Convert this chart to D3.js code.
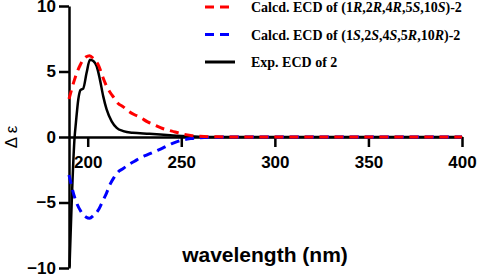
<!DOCTYPE html>
<html>
<head>
<meta charset="utf-8">
<script src="https://cdn.jsdelivr.net/npm/d3@7"></script>
<style>
  body { margin: 0; background: #fff; }
  svg { display: block; }
</style>
</head>
<body>
<script>
// calculated ECD spectra (nm, Δε)
const calcNm = [190, 193, 196, 199, 201, 203, 206, 208, 210, 212, 214, 216, 219, 222, 225, 228, 232, 236, 240, 245, 250, 255, 260, 270, 280, 300, 350, 400];
const calcRRRSS = [2.9, 4.4, 5.5, 6.1, 6.2, 6.0, 5.4, 4.6, 3.9, 3.4, 3.0, 2.6, 2.3, 1.95, 1.7, 1.5, 1.15, 0.9, 0.65, 0.45, 0.25, 0.12, 0.05, 0.01, 0, 0, 0, 0];
const calcSSSRR = [-2.9, -4.6, -5.6, -6.1, -6.2, -6.0, -5.5, -4.9, -4.3, -3.6, -3.1, -2.7, -2.4, -2.1, -1.85, -1.6, -1.35, -1.1, -0.85, -0.5, -0.25, -0.12, -0.05, -0.01, 0, 0, 0, 0];
// experimental ECD
const expNm = [190.3, 193, 193.7, 195, 196.2, 197.6, 199.4, 201.2, 203, 204.8, 206.5, 208.3, 210.1, 212.8, 215.5, 219, 224, 233, 244, 255, 265, 300, 350, 400];
const expVal = [-9.9, 0, 1.1, 2.9, 3.6, 3.7, 4.9, 5.9, 5.8, 5.4, 4.4, 3.1, 2.1, 1.2, 0.7, 0.45, 0.32, 0.25, 0.14, 0.05, 0, 0, 0, 0];

const xTicks = [200, 250, 300, 350, 400];
const yTicks = [-10, -5, 0, 5, 10];

const W = 477, H = 276;
const svg = d3.select('body').append('svg').attr('width', W).attr('height', H);

const x = d3.scaleLinear().domain([190, 400]).range([69, 462]);
const y = d3.scaleLinear().domain([-10, 10]).range([268, 6]);

// axes
const xAxis = d3.axisBottom(x).tickValues(xTicks).tickSize(10).tickSizeOuter(0).tickPadding(9);
const xg = svg.append('g').attr('transform', `translate(0,${y(0)})`).call(xAxis);
const yAxis = d3.axisLeft(y).tickValues(yTicks).tickSize(10).tickSizeOuter(0).tickPadding(3);
const yg = svg.append('g').attr('transform', `translate(${x(190)},0)`).call(yAxis);
[xg, yg].forEach(g => {
  g.select('.domain').attr('stroke', '#000').attr('stroke-width', 2.5);
  g.selectAll('.tick line').attr('stroke', '#000').attr('stroke-width', 2.5);
  g.selectAll('.tick text').attr('fill', '#000')
    .style('font-family', 'Liberation Sans, Arial, sans-serif')
    .style('font-weight', 'bold').style('font-size', '17px');
});

// axis titles
svg.append('text').text('wavelength (nm)')
  .attr('x', 265).attr('y', 262).attr('text-anchor', 'middle')
  .style('font-family', 'Liberation Sans, Arial, sans-serif')
  .style('font-weight', 'bold').style('font-size', '21px');
svg.append('text').text('Δ ε')
  .attr('transform', `translate(17,${y(0)}) rotate(-90)`).attr('text-anchor', 'middle')
  .style('font-family', 'Liberation Sans, Arial, sans-serif').style('font-size', '17px');

// curves
const line = d3.line().x(d => x(d[0])).y(d => y(d[1])).curve(d3.curveMonotoneX);
svg.append('path').attr('d', line(d3.zip(expNm, expVal)))
  .attr('fill', 'none').attr('stroke', '#000').attr('stroke-width', 2.5);
svg.append('path').attr('d', line(d3.zip(calcNm, calcSSSRR)))
  .attr('fill', 'none').attr('stroke', '#0000ff').attr('stroke-width', 3).attr('stroke-dasharray', '9,6');
svg.append('path').attr('d', line(d3.zip(calcNm, calcRRRSS)))
  .attr('fill', 'none').attr('stroke', '#ff0000').attr('stroke-width', 3).attr('stroke-dasharray', '9,6');

// legend
const legend = [
  {color: '#ff0000', dash: '9,6', parts: [['Calcd. ECD of (1'], ['R', 1], [',2'], ['R', 1], [',4'], ['R', 1], [',5'], ['S', 1], [',10'], ['S', 1], [')-2']]},
  {color: '#0000ff', dash: '9,6', parts: [['Calcd. ECD of (1'], ['S', 1], [',2'], ['S', 1], [',4'], ['S', 1], [',5'], ['R', 1], [',10'], ['R', 1], [')-2']]},
  {color: '#000', dash: null, parts: [['Exp. ECD of 2']]}
];
legend.forEach((d, i) => {
  const ly = 7 + i * 27.5;
  svg.append('line').attr('x1', 205).attr('x2', d.dash ? 230 : 235).attr('y1', ly).attr('y2', ly)
    .attr('stroke', d.color).attr('stroke-width', 3).attr('stroke-dasharray', d.dash);
  const t = svg.append('text').attr('x', 251).attr('y', ly + 5)
    .style('font-family', 'Liberation Serif, Times New Roman, serif')
    .style('font-weight', 'bold').style('font-size', '14px');
  d.parts.forEach(p => t.append('tspan').text(p[0]).style('font-style', p[1] ? 'italic' : 'normal'));
});
</script>
</body>
</html>
